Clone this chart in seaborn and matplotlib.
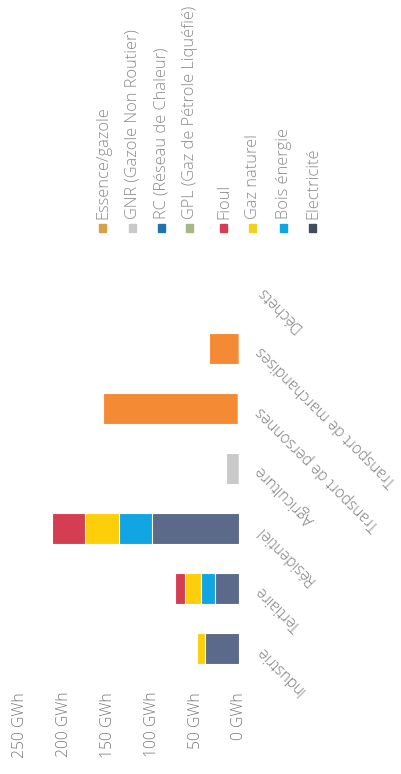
import matplotlib
matplotlib.use("Agg")
import matplotlib.pyplot as plt
import seaborn as sns
import numpy as np
import pandas as pd
from matplotlib.patches import Rectangle

categories = ["Industrie", "Tertiaire", "Résidentiel", "Agriculture",
              "Transport de personnes", "Transport de marchandises", "Déchets"]
tick_values = [0, 50, 100, 150, 200, 250]
tick_labels = ["0 GWh", "50 GWh", "100 GWh", "150 GWh", "200 GWh", "250 GWh"]

# series, listed in stacking order from the zero line outward
electricite = [39, 28, 100, 0, 2, 0, 0]
bois_energie = [0, 16, 37, 0, 0, 0, 0]
gaz_naturel = [9, 18, 39, 0, 0, 0, 0]
fioul = [2, 12, 38, 0, 0, 0, 0]
gpl = [0, 0, 0, 0, 0, 0, 0]
rc = [0, 0, 0, 0, 0, 0, 0]
gnr = [0, 0, 0, 15, 0, 0, 0]
essence = [0, 0, 0, 0, 153, 35, 0]

series_names = ["Electricité", "Bois énergie", "Gaz naturel", "Fioul",
                "GPL (Gaz de Pétrole Liquéfié)", "RC (Réseau de Chaleur)",
                "GNR (Gazole Non Routier)", "Essence/gazole"]
series_values = [electricite, bois_energie, gaz_naturel, fioul, gpl, rc, gnr, essence]
series_colors = ["#5B6A8B", "#12A5E3", "#FDCF0A", "#D53E52",
                 "#A9B784", "#1F74AD", "#C9C9C9", "#F58A34"]
legend_marker_colors = ["#434C5C", "#12A5E3", "#F2D21E", "#D53E52",
                        "#A9B784", "#1F74AD", "#C9C9C9", "#D9A046"]

sns.set_theme(style="white")
plt.rcParams["font.family"] = ["Open Sans", "DejaVu Sans"]

fig = plt.figure(figsize=(4.02, 7.74), dpi=100)
W, H = 402, 774
ax = fig.add_axes([20 / W, (774 - 678) / H, (239.5 - 20) / W, (678 - 259) / H])

cum = np.zeros(len(categories))
cums = []
for vals in series_values:
    cum = cum + np.array(vals, dtype=float)
    cums.append(cum.copy())

order = categories[::-1]
for name, c, color in reversed(list(zip(series_names, cums, series_colors))):
    d = pd.DataFrame({"cat": categories, "val": c})
    sns.barplot(data=d, x="val", y="cat", order=order, orient="h", color=color,
                width=0.52, edgecolor="white", linewidth=0.8, saturation=1,
                errorbar=None, ax=ax)

ax.set_xlim(250, 0)
ax.set_ylim(6.5, -0.5)
ax.set_xlabel("")
ax.set_ylabel("")
for s in ax.spines.values():
    s.set_visible(False)
ax.grid(False)

txt_color = "#7A7A7A"
ax.set_xticks(tick_values)
ax.set_xticklabels(tick_labels, rotation=90, color=txt_color, fontsize=11.3,
                   fontweight="light")
ax.tick_params(axis="x", length=0, pad=10)

ax.yaxis.tick_right()
ax.set_yticks(range(len(order)))
ax.set_yticklabels(order, rotation=135, ha="right", va="center",
                   rotation_mode="anchor", color=txt_color, fontsize=11.2,
                   fontweight="light")
ax.tick_params(axis="y", length=0, pad=14, labelright=True, labelleft=False)

# legend (drawn rotated like the rest of the chart)
legend_x = [103, 133, 162, 190, 224, 253, 284, 313]
legend_names = series_names[::-1]
legend_cols = legend_marker_colors[::-1]
for x, name, col in zip(legend_x, legend_names, legend_cols):
    fig.patches.append(Rectangle(((x - 3.5) / W, (774 - 231.5) / H), 7 / W, 7 / H,
                                 transform=fig.transFigure, color=col))
    fig.text(x / W, (774 - 219) / H, name, rotation=90, ha="center", va="bottom",
             color="#8A8A8A", fontsize=11.8, fontweight="light")

fig.savefig("out.png", dpi=100, facecolor="white")
